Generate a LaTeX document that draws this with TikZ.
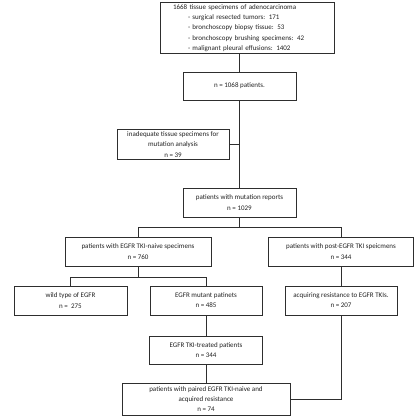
\documentclass[tikz,border=0pt]{standalone}
\usepackage{fontspec}
\setmainfont{Carlito}
\usepackage{xcolor}
\definecolor{boxline}{HTML}{2E2E2E}
\definecolor{textdark}{HTML}{222222}
\usepackage{tikz}
\usetikzlibrary{positioning,calc}

\begin{document}
\begin{tikzpicture}[x=1pt, y=-1pt,
      flowbox/.style={rectangle, draw=boxline, fill=white, text=textdark, minimum width=113pt, minimum height=29pt, font=\fontsize{7}{10.2}\selectfont, align=center, line width=1pt, inner sep=2pt},
      link/.style={draw=boxline, line width=1pt}
    ]
      \useasboundingbox (0,0) rectangle (420,420);
      \node[flowbox, minimum width=174pt, minimum height=50pt, align=left, text width=148pt, inner xsep=13pt] (tissue) at (247,28) {1668 tissue specimens of adenocarcinoma\\
        \hspace*{15pt}- surgical resected tumors: 171\\
        \hspace*{15pt}- bronchoscopy biopsy tissue: 53\\
        \hspace*{15pt}- bronchoscopy brushing specimens: 42\\
        \hspace*{15pt}- malignant pleural effusions: 1402};
      \node[flowbox, minimum height=28pt] (patients) at (239.5,86) {n = 1068 patients.};
      \node[flowbox, minimum width=112pt] (inadequate) at (173,144.5) {inadequate tissue specimens for\\mutation analysis\\n = 39};
      \node[flowbox] (reports) at (239.5,202.5) {patients with mutation reports\\n = 1029};
      \node[flowbox, minimum width=146pt] (naive) at (138,251.5) {patients with EGFR TKI-naive specimens\\n = 760};
      \node[flowbox, minimum width=145pt] (post) at (341,251.5) {patients with post-EGFR TKI speicmens\\n = 344};
      \node[flowbox] (wild) at (70.5,300.5) {wild type of EGFR\\n =\ \ 275};
      \node[flowbox, minimum width=112pt] (mutant) at (206,300.5) {EGFR mutant patinets\\n = 485};
      \node[flowbox, minimum width=112pt] (resist) at (341,300.5) {acquiring resistance to EGFR TKIs.\\n = 207};
      \node[flowbox, minimum height=28pt] (treated) at (206,350) {EGFR TKI-treated patients\\n = 344};
      \node[flowbox, minimum width=168pt, minimum height=32pt] (paired) at (206,399) {patients with paired EGFR TKI-naive and\\acquired resistance\\n = 74};
      \draw[link] (patients.north |- tissue.south) -- (patients.north);
      \draw[link] (patients.south) -- (reports.north);
      \draw[link] (inadequate.east) -- (inadequate.east -| patients.south);
      \coordinate (split1) at ($(reports.south)+(0,10)$);
      \draw[link] (reports.south) -- (split1);
      \draw[link] (naive.north) |- (split1) -| (post.north);
      \coordinate (split2) at ($(naive.south)+(0,11)$);
      \draw[link] (naive.south) -- (split2);
      \draw[link] (wild.north) |- (split2) -| (mutant.north);
      \draw[link] (post.south) -- (resist.north);
      \draw[link] (mutant.south) -- (treated.north);
      \draw[link] (treated.south) -- (paired.north);
      \draw[link] (resist.south) |- (paired.east);
    \end{tikzpicture}
\end{document}
